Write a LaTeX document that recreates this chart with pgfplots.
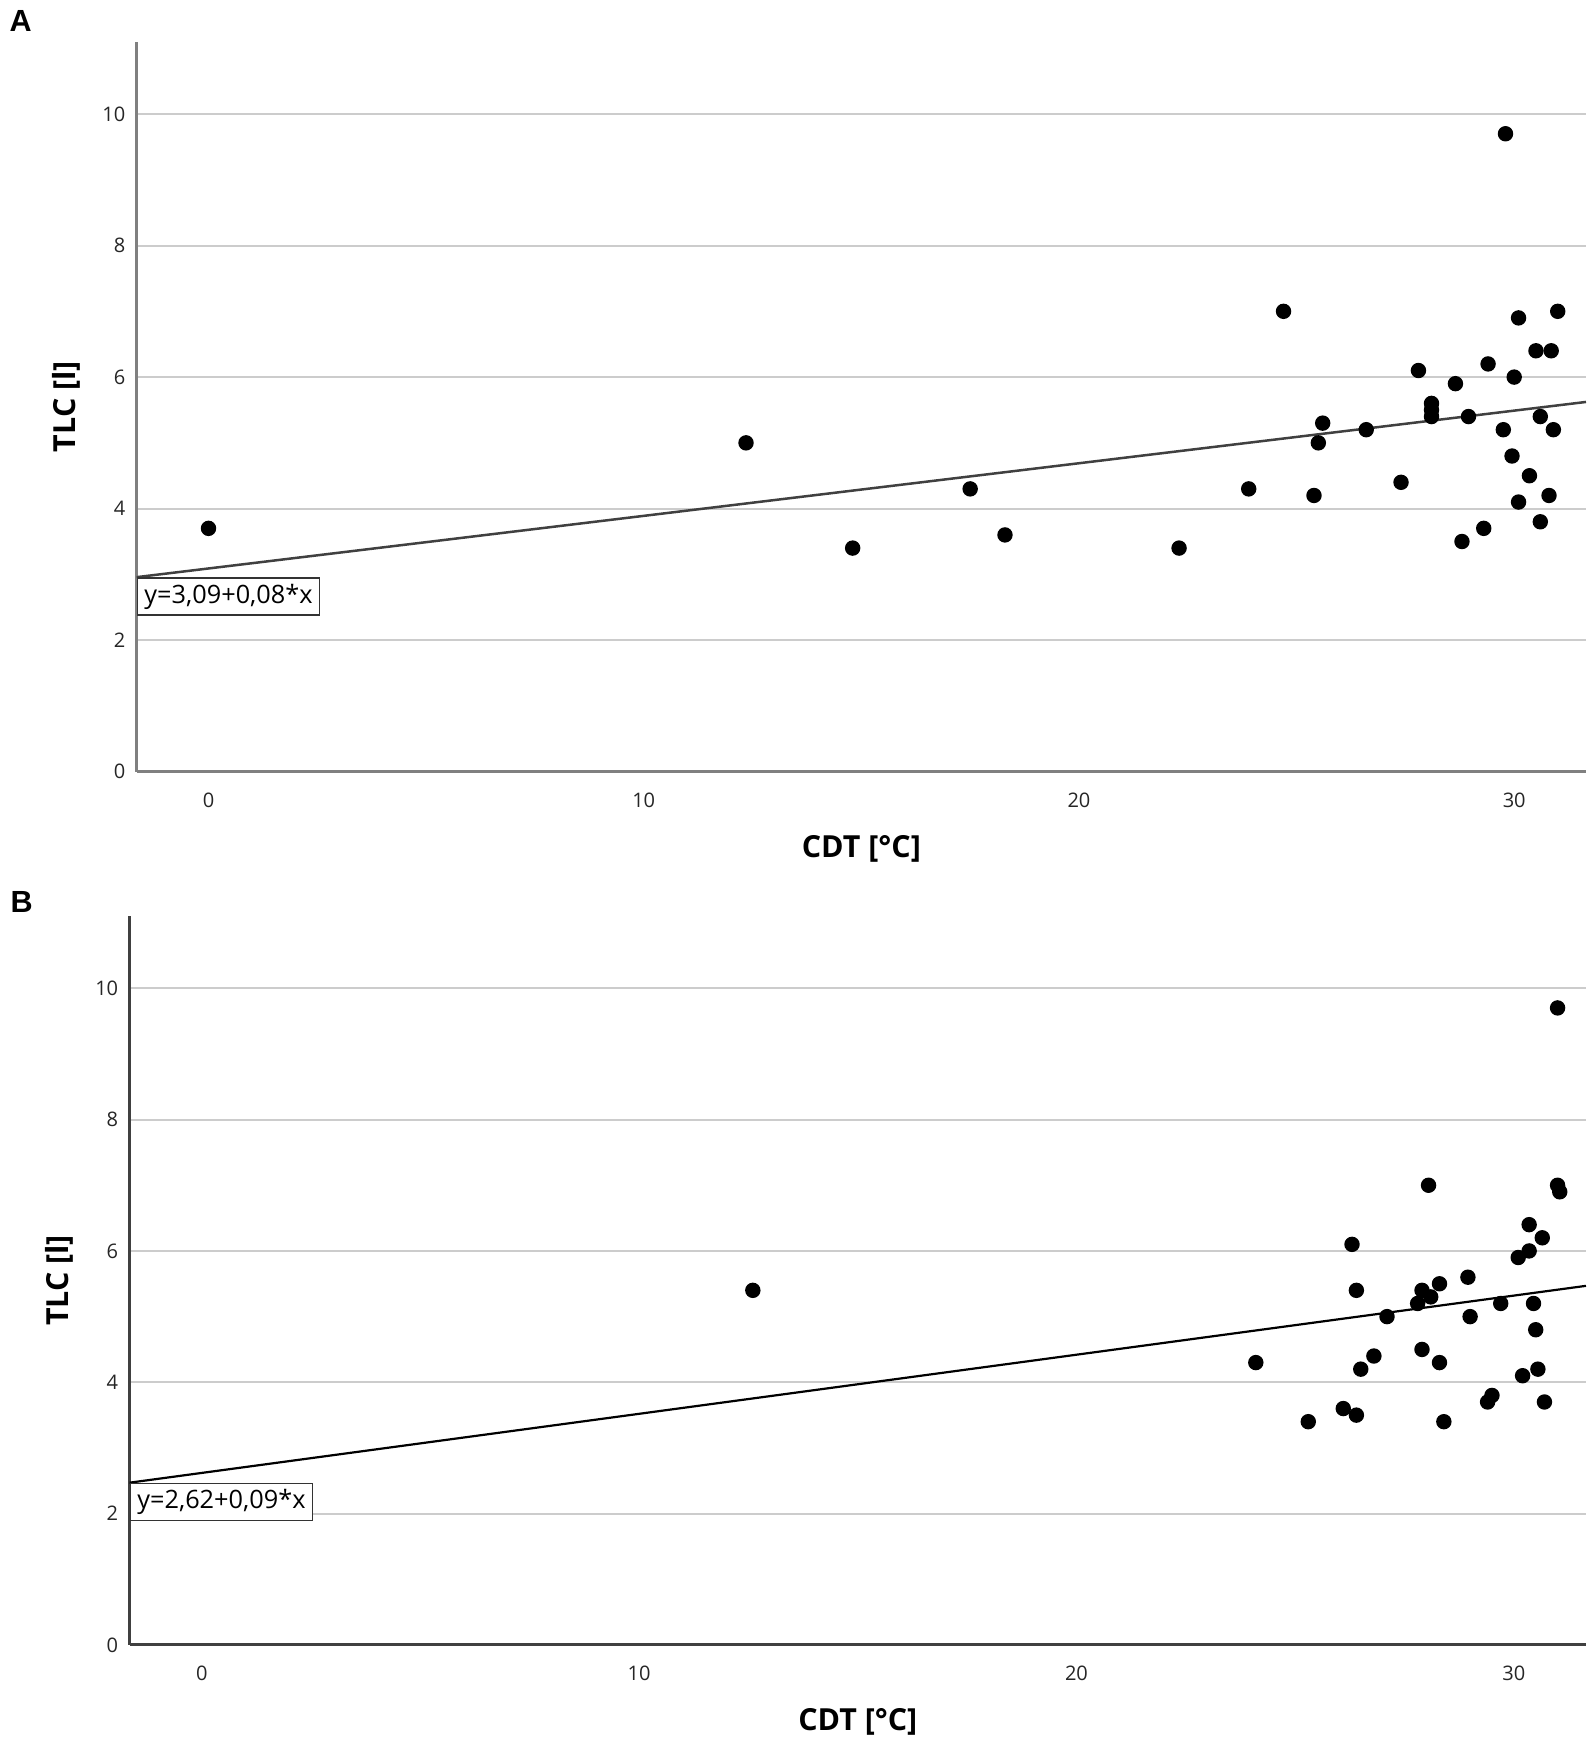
\documentclass[border=0pt]{standalone}
\usepackage{fontspec}
\setmainfont{Open Sans}
\newfontfamily\letterfont{Liberation Sans}
\usepackage{pgfplots}
\pgfplotsset{compat=1.18}
\newcommand{\tickfont}{\fontsize{5.7}{6.5}\selectfont}
\newcommand{\labfont}{\fontsize{8.65}{10}\selectfont\bfseries}
\newcommand{\eqfont}{\fontsize{7.2}{8.5}\selectfont}
\pgfplotsset{
  panel/.style={
    scale only axis,
    anchor=south west,
    xmin=-1.65, xmax=31.65,
    ymin=0, ymax=11.1,
    axis x line=bottom, axis y line=left,
    axis line style={-, line width=0.3mm},
    xtick={0,10,20,30}, ytick={0,2,4,6,8,10},
    major tick length=0pt,
    tick style={draw=none},
    ymajorgrids,
    grid style={color=black!20, line width=0.2mm},
    /pgf/number format/assume math mode=true,
    ticklabel style={font=\tickfont, text=black!85},
    xticklabel style={yshift=-0.85mm},
    yticklabel style={xshift=0.1mm},
    xlabel={CDT [°C]}, ylabel={TLC [l]},
    xlabel style={at={(axis description cs:0.5,-0.1055)}, anchor=center, font=\labfont},
    ylabel style={at={(axis description cs:-0.0483,0.5)}, anchor=center, font=\labfont},
    clip=false,
  },
  dots/.style={only marks, mark=*, mark size=0.7mm, mark options={fill=black, draw=black}},
}
\begin{document}
\begin{tikzpicture}
\path[use as bounding box, fill=white] (0,0) rectangle (159.4mm,174.3mm);
\node[anchor=base west, inner sep=0, font=\letterfont\fontsize{8.7}{10}\selectfont\bfseries] at (0.9mm,171.1mm) {A};
\node[anchor=base west, inner sep=0, font=\letterfont\fontsize{8.7}{10}\selectfont\bfseries] at (1.0mm,83.0mm) {B};

\begin{axis}[panel, at={(13.67mm,97.13mm)}, width=144.93mm, height=73mm,
  axis line style={draw=black!50}]
\addplot[dots] coordinates {
(0,3.7) (12.35,5.0) (14.8,3.4) (17.5,4.3) (18.3,3.6) (22.3,3.4) (23.9,4.3)
(24.7,7.0) (25.4,4.2) (25.5,5.0) (25.6,5.3) (26.6,5.2) (27.4,4.4) (27.8,6.1)
(28.1,5.6) (28.1,5.5) (28.1,5.4) (28.65,5.9) (28.8,3.5) (28.95,5.4) (29.3,3.7)
(29.4,6.2) (29.8,9.7) (29.75,5.2) (29.95,4.8) (30.0,6.0) (30.1,6.9) (30.1,4.1)
(30.35,4.5) (30.5,6.4) (30.6,3.8) (30.6,5.4) (30.8,4.2) (30.85,6.4) (30.9,5.2)
(31.0,7.0)
};
\addplot[black!75, line width=0.25mm] coordinates {(-1.65,2.958) (31.65,5.622)};
\node[draw=black!80, line width=0.15mm, fill=white, anchor=north west, inner xsep=0.7mm, inner ysep=0.6mm, font=\eqfont] at (axis cs:-1.65,2.958) {y=3,09+0,08*x};
\end{axis}

\begin{axis}[panel, at={(12.96mm,9.8mm)}, width=145.64mm, height=72.9mm,
  axis line style={draw=black!75}]
\addplot[dots] coordinates {
(12.6,5.4) (24.1,4.3) (25.3,3.4) (26.1,3.6) (26.3,6.1) (26.4,5.4) (26.4,3.5)
(26.5,4.2) (26.8,4.4) (27.1,5.0) (27.8,5.2) (27.9,5.4) (27.9,4.5) (28.05,7.0)
(28.1,5.3) (28.3,5.5) (28.3,4.3) (28.4,3.4) (28.95,5.6) (29.0,5.0) (29.4,3.7)
(29.5,3.8) (29.7,5.2) (30.1,5.9) (30.2,4.1) (30.35,6.4) (30.35,6.0) (30.45,5.2)
(30.5,4.8) (30.55,4.2) (30.65,6.2) (30.7,3.7) (31.0,9.7) (31.0,7.0) (31.05,6.9)
};
\addplot[black, line width=0.22mm] coordinates {(-1.65,2.4715) (31.65,5.4685)};
\node[draw=black!80, line width=0.15mm, fill=white, anchor=north west, inner xsep=0.7mm, inner ysep=0.6mm, font=\eqfont] at (axis cs:-1.65,2.4715) {y=2,62+0,09*x};
\end{axis}
\end{tikzpicture}
\end{document}
